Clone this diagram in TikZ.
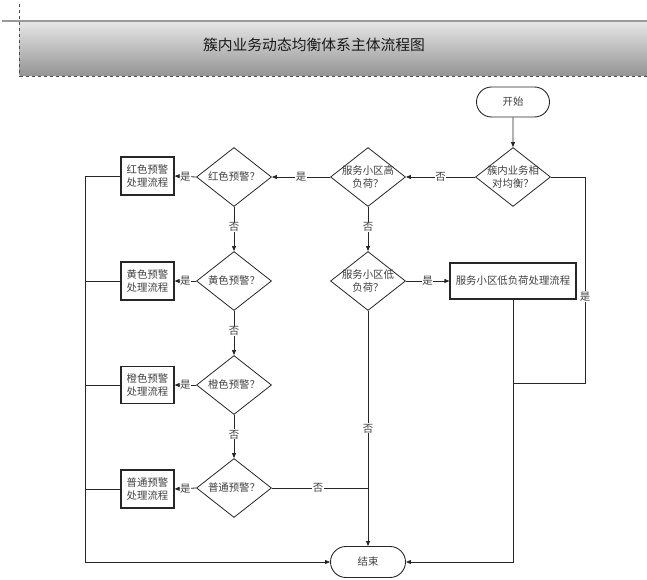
\documentclass[tikz,border=0pt]{standalone}
\usepackage{fontspec}
\setmainfont{Noto Sans CJK SC}
\usetikzlibrary{arrows.meta,shapes.geometric,shapes.misc}
\begin{document}
\begin{tikzpicture}[x=1pt,y=-1pt,
  font=\fontsize{10.4}{12.5}\selectfont,
  every node/.style={text=black!75},
  term/.style={draw=black!85,line width=0.9pt,rounded rectangle,minimum width=73pt,minimum height=30pt,inner sep=0pt},
  diam/.style={draw=black!85,line width=0.8pt,diamond,minimum width=75pt,minimum height=59pt,inner sep=0pt},
  proc/.style={draw=black!85,line width=1.2pt,rectangle,align=center,inner sep=0pt},
  conn/.style={draw=black!85,line width=0.8pt},
  arr/.style={conn,-{Triangle[length=5pt,width=4pt]}},
  lab/.style={fill=white,inner sep=0.5pt,text=black!75}
]
\useasboundingbox (0,0) rectangle (647,580);
% header
\shade[top color=black!10,bottom color=black!42] (19.5,22) rectangle (647,76);
\draw[black!40,line width=2.5pt] (2,21) -- (647,21);
\draw[black!70,dashed,line width=0.8pt] (19.5,4) -- (19.5,76) -- (647,76);
\node[font=\fontsize{14.8}{16}\selectfont,text=black!90] (title) at (314,45) {簇内业务动态均衡体系主体流程图};
% nodes
\node[term] (start) at (513,102) {开始};
\node[diam,label={[align=center,text=black!75]center:簇内业务相\\对均衡？}] (d0) at (513,177) {};
\node[diam,label={[align=center,text=black!75]center:服务小区高\\负荷？}] (d1) at (368,177) {};
\node[diam,label={[align=center,text=black!75]center:服务小区低\\负荷？}] (d2) at (368,281) {};
\node[proc,minimum width=126pt,minimum height=36pt] (low) at (513,281) {服务小区低负荷处理流程};
\node[diam,label={[text=black!75]center:红色预警？}] (d3) at (234,177) {};
\node[diam,label={[text=black!75]center:黄色预警？}] (d4) at (234,281) {};
\node[diam,label={[text=black!75]center:橙色预警？}] (d5) at (234,385) {};
\node[diam,label={[text=black!75]center:普通预警？}] (d6) at (234,488) {};
\node[proc,minimum width=53pt,minimum height=38pt] (b3) at (147.5,176) {红色预警\\处理流程};
\node[proc,minimum width=53pt,minimum height=38pt] (b4) at (147.5,281) {黄色预警\\处理流程};
\node[proc,minimum width=53pt,minimum height=37pt] (b5) at (147.5,385) {橙色预警\\处理流程};
\node[proc,minimum width=53pt,minimum height=38pt] (b6) at (147.5,489) {普通预警\\处理流程};
\node[term,minimum width=75pt,minimum height=31pt] (end) at (368,562) {结束};
% helper coordinates
\coordinate (r0) at (585,177);
\coordinate (r1) at (585,383);
\coordinate (r2) at (513,383);
\coordinate (lowd) at (513,562);
\coordinate (j6) at (368,488);
\coordinate (bus3) at (85,176);
\coordinate (bus4) at (85,281);
\coordinate (bus5) at (85,385);
\coordinate (bus6) at (85,489);
\coordinate (busb) at (85,562);
% connectors
\draw[arr] (start) -- (d0);
\draw[arr] (d0.west) -- node[lab,pos=0.5]{否} (d1.east);
\draw[arr] (d1.west) -- node[lab,pos=0.5]{是} (d3.east);
\draw[arr] (d1.south) -- node[lab,pos=0.45]{否} (d2.north);
\draw[arr] (d2.east) -- node[lab,pos=0.5]{是} (low.west);
\draw[arr] (d2.south) -- node[lab,pos=0.5]{否} (end.north);
\draw[conn] (d0.east) -- (r0) -- node[lab,pos=0.58]{是} (r1) -- (r2);
\draw[arr] (low.south) -- (lowd) -- (end.east);
\draw[arr] (d3.west) -- node[lab,pos=0.5]{是} (b3.east);
\draw[arr] (d4.west) -- node[lab,pos=0.5]{是} (b4.east);
\draw[arr] (d5.west) -- node[lab,pos=0.5]{是} (b5.east);
\draw[arr] (d6.west) -- node[lab,pos=0.5]{是} (b6.east);
\draw[arr] (d3.south) -- node[lab,pos=0.45]{否} (d4.north);
\draw[arr] (d4.south) -- node[lab,pos=0.45]{否} (d5.north);
\draw[arr] (d5.south) -- node[lab,pos=0.45]{否} (d6.north);
\draw[conn] (d6.east) -- node[lab,pos=0.48]{否} (j6);
\draw[arr] (b3.west) -- (bus3) -- (busb) -- (end.west);
\draw[conn] (b4.west) -- (bus4);
\draw[conn] (b5.west) -- (bus5);
\draw[conn] (b6.west) -- (bus6);
\end{tikzpicture}
\end{document}
